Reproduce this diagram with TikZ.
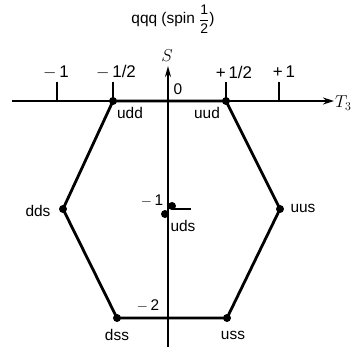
\documentclass[tikz,border=0pt]{standalone}
\usepackage{amsmath}
\usepackage{fontspec}
\setsansfont{Liberation Sans}
\usetikzlibrary{arrows.meta}
\begin{document}
\begin{tikzpicture}[x=1bp,y=-1bp,
  lbl/.style={font=\sffamily\fontsize{15.5}{18}\selectfont, inner sep=0pt},
  ticklbl/.style={font=\sffamily\fontsize{17}{20}\selectfont, inner sep=0pt},
  dot/.style={circle, fill=black, inner sep=0pt, minimum size=8bp},
  hexline/.style={line width=2.8bp, line join=round},
  axis/.style={line width=1.6bp},
  tickmark/.style={line width=1.2bp}]
\useasboundingbox (0,0) rectangle (362,347);
% axes
\coordinate (xl) at (12,101);
\coordinate (xr) at (334,101);
\coordinate (yt) at (168,66);
\coordinate (yb) at (168,347);
\draw[axis,-{Stealth[length=11bp,width=7bp]}] (xl) -- (xr);
\draw[axis,-{Stealth[length=11bp,width=6bp]}] (yb) -- (yt);
% ticks
\coordinate (tm1) at (57,101);  \coordinate (tm1t) at (57,82);
\coordinate (tmh) at (113,101); \coordinate (tmht) at (113,82);
\coordinate (tph) at (226,101); \coordinate (tpht) at (226,82);
\coordinate (tp1) at (279,101); \coordinate (tp1t) at (279,82);
\draw[tickmark] (tm1) -- (tm1t);
\draw[tickmark] (tmh) -- (tmht);
\draw[tickmark] (tph) -- (tpht);
\draw[tickmark] (tp1) -- (tp1t);
% tick labels
\node[ticklbl] (lm1) at (56,72) {$-$\,1};
\node[ticklbl] (lmh) at (116,72) {$-$\,1/2};
\node[ticklbl] (lph) at (234,72) {+\,1/2};
\node[ticklbl] (lp1) at (284,72) {+\,1};
\node[lbl] (l0) at (178,89) {0};
\node[inner sep=0pt, font=\fontsize{18}{21}\selectfont] (S) at (167,56) {$S$};
\node[inner sep=0pt, font=\fontsize{18}{21}\selectfont, anchor=west] (T3) at (335,103) {$T_3$};
\node[lbl] (title) at (173,19) {qqq (spin {\fontsize{14}{15}\selectfont$\dfrac{\text{1}}{\text{2}}$})};
% hexagon vertices
\node[dot] (udd) at (113,101) {};
\node[dot] (uud) at (226,101) {};
\node[dot] (uus) at (280,209) {};
\node[dot] (uss) at (227,318) {};
\node[dot] (dss) at (117,318) {};
\node[dot] (dds) at (63,209) {};
\draw[hexline] (udd.center) -- (uud.center) -- (uus.center) -- (uss.center) -- (dss.center) -- (dds.center) -- cycle;
% centre
\node[dot] (uds) at (165,214) {};
\node[dot] (uds2) at (172,206) {};
\coordinate (m1r) at (191,209);
\draw[tickmark] (uds2.center) ++(0,3) -- (m1r);
% S-axis labels
\node[lbl] (sm1) at (152,201) {$-$\,1};
\node[lbl] (sm2) at (148,306) {$-$\,2};
% vertex labels
\node[lbl] (tudd) at (130,113) {udd};
\node[lbl] (tuud) at (207,113) {uud};
\node[lbl] (tuus) at (303,208) {uus};
\node[lbl] (tdds) at (38,211) {dds};
\node[lbl] (tuds) at (183,226) {uds};
\node[lbl] (tdss) at (117,335) {dss};
\node[lbl] (tuss) at (233,335) {uss};
\end{tikzpicture}
\end{document}
